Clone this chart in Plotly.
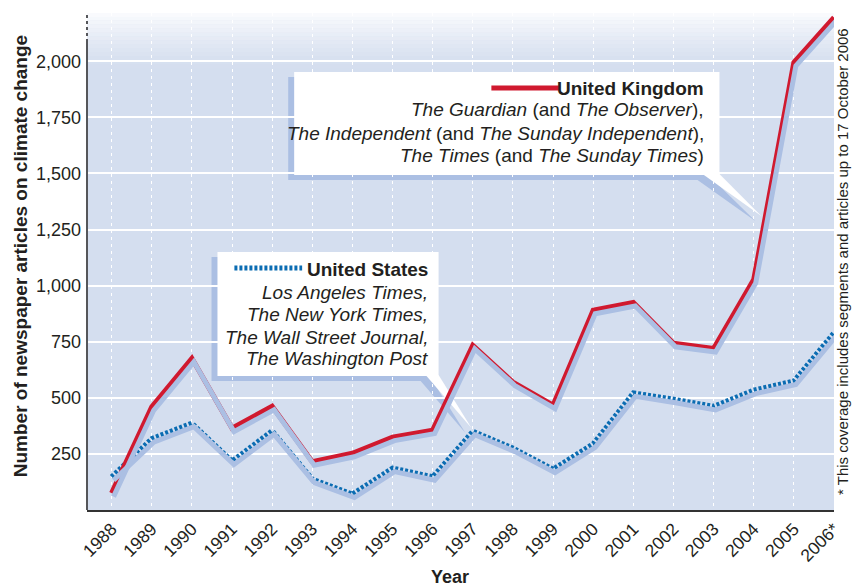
import plotly.graph_objects as go

# ---------------- data ----------------
years = list(range(1988, 2007))
year_labels = [str(y) for y in range(1988, 2006)] + ["2006*"]
uk_articles = [75, 460, 676, 365, 462, 215, 253, 325, 356, 734, 570, 467, 890, 925, 743, 720, 1027, 1995, 2195]
us_articles = [148, 318, 387, 218, 353, 138, 71, 187, 148, 351, 276, 182, 295, 522, 494, 462, 534, 575, 790]
y_ticks = [250, 500, 750, 1000, 1250, 1500, 1750, 2000]

uk_lines = ["<b>United Kingdom</b>",
            "<i>The Guardian</i> (and <i>The Observer</i>),",
            "<i>The Independent</i> (and <i>The Sunday Independent</i>),",
            "<i>The Times</i> (and <i>The Sunday Times</i>)"]
us_lines = ["<b>United States</b>",
            "<i>Los Angeles Times,</i>",
            "<i>The New York Times,</i>",
            "<i>The Wall Street Journal,</i>",
            "<i>The Washington Post</i>"]

# ---------------- styling ----------------
W, H = 855, 587
L, R, T, B = 87, 837, 13, 510          # plot area in pixels
XR = [1987.387, 2006.0]
YR = [0, 2215]
RED = "#d0192f"
BLUE = "#0b6cb2"
SHADOW = "#abbfe3"
PLOTBG = "#d4deef"
FONT = "Liberation Sans, Arial, Helvetica, sans-serif"
TXT = "#231f20"

def PX(x):
    return (x - L) / (R - L)

def PY(y):
    return (B - y) / (B - T)

dx_units = 2 / ((R - L) / (XR[1] - XR[0]))
dy_units = 3.5 / ((B - T) / (YR[1] - YR[0]))

fig = go.Figure()

for vals in (us_articles, uk_articles):
    fig.add_trace(go.Scatter(x=years, y=vals, mode="lines", xaxis="x2", yaxis="y2",
                             line=dict(color=SHADOW, width=5), hoverinfo="skip",
                             showlegend=False))

fig.add_trace(go.Scatter(x=years, y=us_articles, mode="lines", name="United States",
                         line=dict(color=BLUE, width=5, dash="3px,2px"), showlegend=False))
fig.add_trace(go.Scatter(x=years, y=uk_articles, mode="lines", name="United Kingdom",
                         line=dict(color=RED, width=5), showlegend=False))

shapes = []
n = 14
top, bot = T, 68
for i in range(n):
    y0 = top + (bot - top) * i / n
    y1 = top + (bot - top) * (i + 1) / n
    shapes.append(dict(type="rect", xref="paper", yref="paper", x0=0, x1=1,
                       y0=PY(y1), y1=PY(y0), line=dict(width=0),
                       fillcolor="white", opacity=0.85 * (1 - i / n) ** 1.3, layer="below"))

def rect(x0, y0, x1, y1, color, layer="between"):
    return dict(type="rect", xref="paper", yref="paper", x0=PX(x0), x1=PX(x1),
                y0=PY(y1), y1=PY(y0), line=dict(width=0), fillcolor=color, layer=layer)

def tri(pts, color, layer="between"):
    p = "M " + " L ".join(f"{PX(x)},{PY(y)}" for x, y in pts) + " Z"
    return dict(type="path", xref="paper", yref="paper", path=p, line=dict(width=0),
                fillcolor=color, layer=layer)

sx, sy = -6, 5
uk_box = (295, 72, 722, 175)
uk_ptr = [(706, 175), (722, 175), (764, 216)]
us_box = (218, 252, 440, 376)
us_ptr = [(428, 376), (440, 376), (473, 428)]
for box, ptr in ((uk_box, uk_ptr), (us_box, us_ptr)):
    shapes.append(rect(box[0] + sx, box[1] + sy, box[2] + sx, box[3] + sy, SHADOW))
    shapes.append(tri([(x + sx, y + sy) for x, y in ptr], SHADOW))
for box, ptr in ((uk_box, uk_ptr), (us_box, us_ptr)):
    shapes.append(rect(*box, "white"))
    shapes.append(tri([(ptr[0][0] - 1, ptr[0][1] - 1), (ptr[1][0], ptr[1][1] - 1), ptr[2]], "white"))

shapes.append(dict(type="line", xref="paper", yref="paper", x0=PX(493), x1=PX(562),
                   y0=PY(88), y1=PY(88), line=dict(color=RED, width=5), layer="above"))
shapes.append(dict(type="line", xref="paper", yref="paper", x0=PX(235), x1=PX(303),
                   y0=PY(268), y1=PY(268), line=dict(color=BLUE, width=5, dash="3px,2px"),
                   layer="above"))

shapes.append(dict(type="line", xref="paper", yref="paper", x0=0, x1=0, y0=0, y1=PY(42),
                   line=dict(color="#55565a", width=2), layer="above"))
shapes.append(dict(type="line", xref="paper", yref="paper", x0=0, x1=0, y0=PY(42), y1=1,
                   line=dict(color="#55565a", width=2, dash="3px,3px"), layer="above"))

annotations = []
for txt, yc in zip(uk_lines, [88, 110, 133, 155]):
    annotations.append(dict(xref="paper", yref="paper", x=PX(708), y=PY(yc), xanchor="right",
                            yanchor="middle", align="right", showarrow=False,
                            font=dict(family=FONT, size=19, color=TXT), text=txt))
for txt, yc in zip(us_lines, [269, 292, 314, 337, 358]):
    annotations.append(dict(xref="paper", yref="paper", x=PX(431), y=PY(yc), xanchor="right",
                            yanchor="middle", align="right", showarrow=False,
                            font=dict(family=FONT, size=19, color=TXT), text=txt))
annotations += [
    dict(xref="paper", yref="paper", x=PX(20), y=PY(256), xanchor="center", yanchor="middle",
         textangle=-90, showarrow=False, font=dict(family=FONT, size=19, color=TXT),
         text="<b>Number of newspaper articles on climate change</b>"),
    dict(xref="paper", yref="paper", x=PX(451), y=PY(577), xanchor="center", yanchor="middle",
         showarrow=False, font=dict(family=FONT, size=18, color=TXT), text="<b>Year</b>"),
    dict(xref="paper", yref="paper", x=PX(845), y=PY(261), xanchor="center", yanchor="middle",
         textangle=-90, showarrow=False, font=dict(family=FONT, size=15, color=TXT),
         text="* This coverage includes segments and articles up to 17 October 2006"),
]

fig.update_layout(
    width=W, height=H,
    margin=dict(l=L, r=W - R, t=T, b=H - B, pad=0),
    paper_bgcolor="white", plot_bgcolor=PLOTBG,
    font=dict(family=FONT, color=TXT),
    shapes=shapes, annotations=annotations,
    xaxis=dict(range=XR, tickvals=years, ticktext=year_labels, tickangle=-45,
               tickfont=dict(size=17.5, color=TXT), showgrid=True, gridcolor="white",
               gridwidth=1, griddash="3px,4px", zeroline=False, showline=True,
               linecolor="#333333", linewidth=2, ticks="", fixedrange=True),
    yaxis=dict(range=YR, tickvals=y_ticks, tickformat=",", tickfont=dict(size=18, color=TXT),
               showgrid=True, gridcolor="white", gridwidth=2, zeroline=False,
               showline=False, ticks="", ticklabelstandoff=5, fixedrange=True),
    xaxis2=dict(range=[XR[0] - dx_units, XR[1] - dx_units], overlaying="x", visible=False,
                showgrid=False),
    yaxis2=dict(range=[YR[0] + dy_units, YR[1] + dy_units], overlaying="y", visible=False,
                showgrid=False),
)

fig.write_html("out.html", config={"displayModeBar": False},
               post_script="document.body.style.margin='0';")
